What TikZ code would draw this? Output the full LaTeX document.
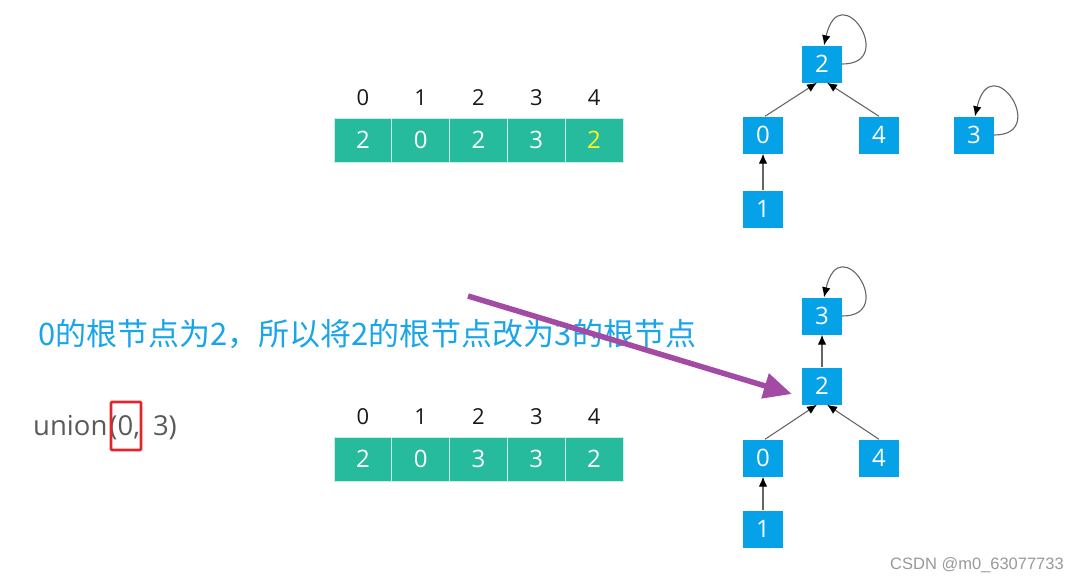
\documentclass[tikz,border=0pt]{standalone}
\usepackage{fontspec}
\setmainfont{Open Sans}
\newfontfamily\cjk{Noto Sans CJK SC}
\newfontfamily\wmfont{Liberation Sans}
\usetikzlibrary{arrows.meta}
\definecolor{tealc}{HTML}{27BB9E}
\definecolor{bluec}{HTML}{06A2E8}
\definecolor{txtblue}{HTML}{1AA5E8}
\definecolor{purplec}{HTML}{A34AA5}
\definecolor{redc}{HTML}{E3242B}
\definecolor{grayt}{HTML}{5A5A5A}
\begin{document}
\begin{tikzpicture}[x=1pt,y=-1pt,
  cell/.style={draw=white!75!tealc, line width=1pt, fill=tealc, minimum width=57.8pt, minimum height=44pt, inner sep=0pt, text=white, font=\fontsize{24}{24}\selectfont},
  idx/.style={anchor=base, inner sep=0pt, text=black!90, font=\fontsize{22}{22}\selectfont},
  tnode/.style={fill=bluec, minimum width=40pt, minimum height=37pt, inner sep=0pt, text=white, font=\fontsize{24}{24}\selectfont},
  link/.style={draw=black!60, line width=1.1pt, -{Latex[length=10pt,width=8.5pt,color=black]}},
  selfloop/.style={draw=black!60, line width=1.1pt, -{Latex[length=10pt,width=8.5pt,color=black]}}
]
\useasboundingbox (0,0) rectangle (1081,582);

% ---------- top array ----------
\foreach \i/\v in {0/2,1/0,2/2,3/3} {
  \node[cell] (ta\i) at ({334+57.8*(\i+0.5)},140) {\v};
  \node[idx] (ti\i) at ({334+57.8*(\i+0.5)},105) {\i};
}
\node[cell, text=yellow!90!white] (ta4) at ({334+57.8*4.5},140) {2};
\node[idx] (ti4) at ({334+57.8*4.5},105) {4};

% ---------- bottom array ----------
\foreach \i/\v in {0/2,1/0,2/3,3/3,4/2} {
  \node[cell] (ba\i) at ({334+57.8*(\i+0.5)},459) {\v};
  \node[idx] (bi\i) at ({334+57.8*(\i+0.5)},424) {\i};
}

% ---------- top tree ----------
\node[tnode] (t2) at (822,64) {2};
\node[tnode] (t0) at (763,135) {0};
\node[tnode] (t4) at (879,135) {4};
\node[tnode] (t3) at (974,135) {3};
\node[tnode] (t1) at (763,209) {1};
\draw[link] ([xshift=2pt]t0.north) -- ([xshift=-5pt]t2.south);
\draw[link] (t4.north) -- ([xshift=5pt]t2.south);
\draw[link] (t1.north) -- (t0.south);
\draw[selfloop] (t2.east) .. controls +(56,0) and +(16,-70) .. ([xshift=2pt]t2.north);
\draw[selfloop] (t3.east) .. controls +(56,0) and +(16,-70) .. ([xshift=1pt]t3.north);

% ---------- bottom tree ----------
\node[tnode] (b3) at (822,316) {3};
\node[tnode] (b2) at (822,386) {2};
\node[tnode] (b0) at (763,458) {0};
\node[tnode] (b4) at (879,458) {4};
\node[tnode] (b1) at (763,529) {1};
\draw[link] (b2.north) -- (b3.south);
\draw[link] ([xshift=2pt]b0.north) -- ([xshift=-5pt]b2.south);
\draw[link] (b4.north) -- ([xshift=5pt]b2.south);
\draw[link] (b1.north) -- (b0.south);
\draw[selfloop] (b3.east) .. controls +(56,0) and +(16,-70) .. ([xshift=2pt]b3.north);

% ---------- texts ----------
\node[anchor=base west, inner sep=0pt, text=txtblue, font=\cjk\fontsize{31}{31}\selectfont] (note) at (38,345) {0的根节点为2，所以将2的根节点改为3的根节点};
\node[anchor=base west, inner sep=0pt, text=grayt, font=\fontsize{27.5}{27.5}\selectfont] (call) at (33,435) {union\hspace{2pt}(0,\hspace{13pt}3)};
\node[draw=redc, line width=2.6pt, rounded corners=1pt, minimum width=30pt, minimum height=48pt, inner sep=0pt] (mark) at (126,426) {};

% ---------- purple arrow ----------
\coordinate (pstart) at (468,296);
\draw[purplec, line width=5.5pt, -{Triangle[length=28pt,width=25pt]}] (pstart) -- ([shift={(-10pt,-8pt)}]b2.west);

% ---------- watermark ----------
\node[anchor=base west, inner sep=0pt, text=black!40, font=\wmfont\fontsize{16.5}{16.5}\selectfont] (wm) at (890,569) {CSDN @m0\_63077733};
\end{tikzpicture}
\end{document}
